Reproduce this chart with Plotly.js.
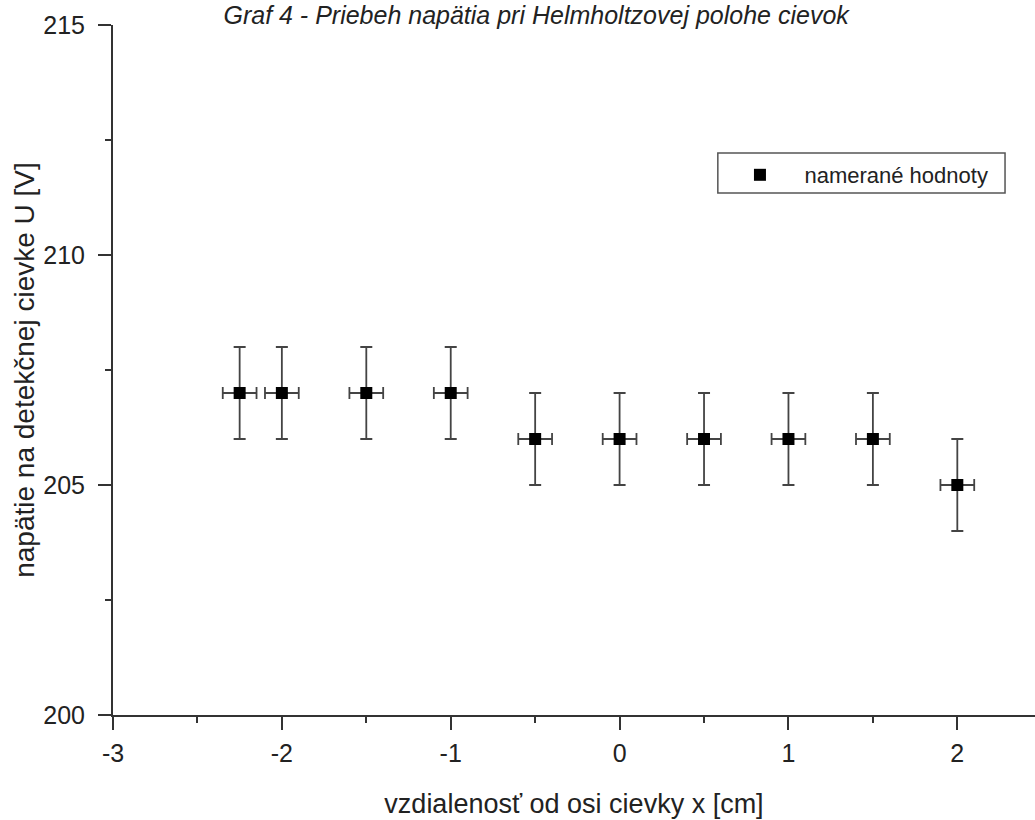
<!DOCTYPE html>
<html>
<head>
<meta charset="utf-8">
<script src="https://cdn.plot.ly/plotly-3.0.1.min.js"></script>
<style>html,body{margin:0;padding:0;background:#fff;}</style>
</head>
<body>
<div id="chart" style="width:1035px;height:820px;"></div>
<script>
const xValues = [-2.25, -2, -1.5, -1, -0.5, 0, 0.5, 1, 1.5, 2];
const yValues = [207, 207, 207, 207, 206, 206, 206, 206, 206, 205];
const xErrors = [0.1, 0.1, 0.1, 0.1, 0.1, 0.1, 0.1, 0.1, 0.1, 0.1];
const yErrors = [1, 1, 1, 1, 1, 1, 1, 1, 1, 1];
const seriesName = "namerané hodnoty";
const titleText = "Graf 4 - Priebeh napätia pri Helmholtzovej polohe cievok";
const xTitle = "vzdialenosť od osi cievky x [cm]";
const yTitle = "napätie na detekčnej cievke U [V]";
const xTickVals = [-3, -2, -1, 0, 1, 2];
const xTickText = ["-3", "-2", "-1", "0", "1", "2"];
const yTickVals = [200, 205, 210, 215];
const yTickText = ["200", "205", "210", "215"];

const font = "Liberation Sans, Arial, sans-serif";
const axisColor = "#333";
const textColor = "#222";
const nb = "\u00a0";

const trace = {
  x: xValues, y: yValues, type: "scatter", mode: "markers",
  name: nb + nb + nb + nb + seriesName,
  marker: {symbol: "square", size: 12, color: "#000"},
  error_y: {type: "data", array: yErrors, visible: true, color: "#444", thickness: 1.8, width: 6},
  error_x: {type: "data", array: xErrors, visible: true, color: "#444", thickness: 1.8, width: 6},
  showlegend: true
};

const layout = {
  width: 1035, height: 820,
  margin: {l: 113, r: 0, t: 25, b: 105},
  paper_bgcolor: "#fff", plot_bgcolor: "#fff",
  font: {family: font, color: textColor, size: 25},
  title: {text: "<i>" + titleText + "</i>", font: {family: font, size: 25, color: textColor},
          xref: "container", yref: "container", x: 0.518, xanchor: "center",
          y: 0.982, yanchor: "middle", pad: {t: 0, b: 0, l: 0, r: 0}},
  xaxis: {
    range: [-3, 2.46], tickvals: xTickVals, ticktext: xTickText,
    showgrid: false, zeroline: false, showline: true, linecolor: axisColor, linewidth: 2,
    ticks: "outside", ticklen: 13, tickwidth: 2, tickcolor: axisColor, ticklabelstandoff: 2,
    minor: {dtick: 0.5, ticks: "outside", ticklen: 6, tickwidth: 2, tickcolor: axisColor, showgrid: false},
    tickfont: {size: 25, family: font, color: textColor},
    title: {text: xTitle, font: {size: 27, family: font, color: textColor}, standoff: 28}
  },
  yaxis: {
    range: [200, 215], tickvals: yTickVals, ticktext: yTickText,
    showgrid: false, zeroline: false, showline: true, linecolor: axisColor, linewidth: 2,
    ticks: "outside", ticklen: 13, tickwidth: 2, tickcolor: axisColor, ticklabelstandoff: 8,
    minor: {dtick: 2.5, ticks: "outside", ticklen: 6, tickwidth: 2, tickcolor: axisColor, showgrid: false},
    tickfont: {size: 25, family: font, color: textColor},
    title: {text: yTitle, font: {size: 28, family: font, color: textColor}, standoff: 0}
  },
  legend: {
    x: 0.68, y: 0.7826, xanchor: "left", yanchor: "middle",
    borderwidth: 0, bgcolor: "rgba(0,0,0,0)",
    font: {size: 22, family: font, color: textColor}
  },
  shapes: [{
    type: "rect", xref: "paper", yref: "paper",
    x0: 0.656, x1: 0.9675, y0: 0.7565, y1: 0.8145,
    line: {color: "#555", width: 1.5}, fillcolor: "rgba(0,0,0,0)", layer: "below"
  }],
  showlegend: true
};

Plotly.newPlot("chart", [trace], layout, {displayModeBar: false, staticPlot: true});
</script>
</body>
</html>
